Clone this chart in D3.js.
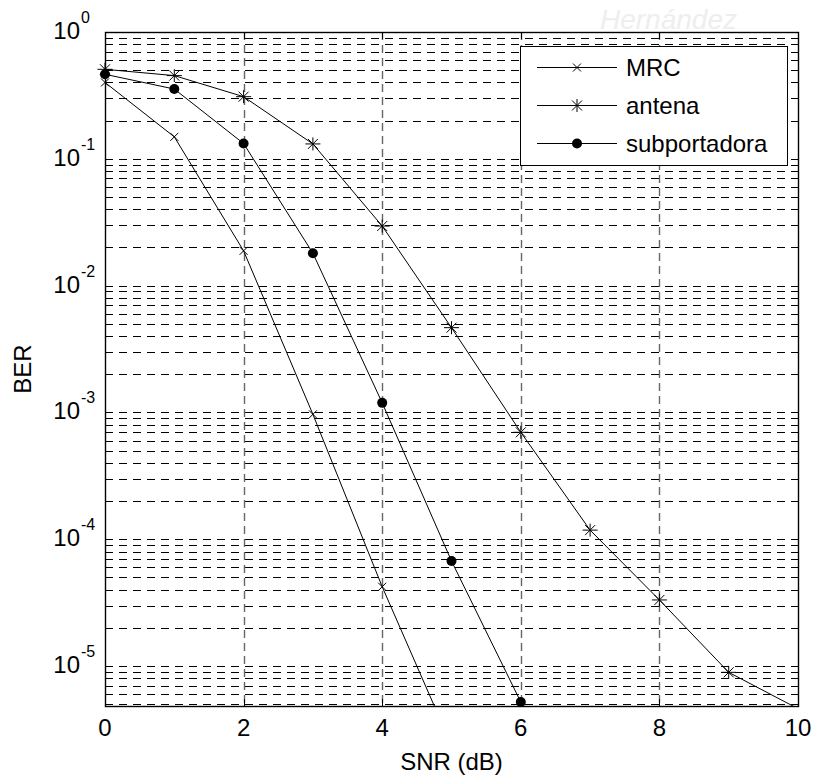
<html>
<head>
<meta charset="utf-8">
<style>
  body { margin: 0; background: #fff; }
  text { font-family: Arial, "Liberation Sans", sans-serif; fill: #000; }
</style>
</head>
<body>
<script src="https://cdnjs.cloudflare.com/ajax/libs/d3/7.8.5/d3.min.js"></script>
<svg id="chart" width="816" height="776"></svg>
<script>
// ---- data ----
var snr = [0, 1, 2, 3, 4, 5, 6, 7, 8, 9, 10];
var mrc = [0.40, 0.149, 0.0188, 9.66e-4, 4.22e-5, 2.37e-6];
var antena = [0.508, 0.453, 0.309, 0.131, 0.0295, 4.66e-3, 6.97e-4, 1.18e-4, 3.32e-5, 8.92e-6, 4.61e-6];
var subportadora = [0.464, 0.355, 0.132, 0.0180, 1.19e-3, 6.73e-5, 5.2e-6];
var seriesNames = ["MRC", "antena", "subportadora"];
var seriesMarkers = ["x", "star", "dot"];
var xTicks = [0, 2, 4, 6, 8, 10];
var yExponents = [0, -1, -2, -3, -4, -5];
var yMin = 4.84e-6;

var pL = 105, pR = 798, pT = 32, pB = 706;
var svg = d3.select("#chart");

// faint watermark behind the figure
svg.append("text")
    .attr("x", 600).attr("y", 29)
    .style("font-size", "28px").style("font-style", "italic")
    .style("fill", "#eeeeee")
    .text("Hernández");

var x = d3.scaleLinear().domain([0, 10]).range([pL, pR]);
var y = d3.scaleLog().domain([yMin, 1]).range([pB, pT]);

svg.append("rect")
    .attr("x", pL).attr("y", pT)
    .attr("width", pR - pL).attr("height", pB - pT)
    .attr("fill", "#fff");

// log grid values (majors + minors inside the domain)
var gridVals = [];
for (var e = -6; e <= 0; e++) {
    for (var m = 1; m <= 9; m++) {
        var v = m * Math.pow(10, e);
        if (v >= yMin && v <= 1) gridVals.push({ v: v, major: m === 1 });
    }
}

var grid = svg.append("g");
grid.selectAll(".hg")
    .data(gridVals.filter(function (d) { return d.v < 1; }))
    .join("line")
    .attr("x1", pL).attr("x2", pR)
    .attr("y1", function (d) { return Math.round(y(d.v)) + 0.5; })
    .attr("y2", function (d) { return Math.round(y(d.v)) + 0.5; })
    .attr("stroke", "#000").attr("stroke-width", 1)
    .attr("stroke-dasharray", "8,6");

grid.selectAll(".vg")
    .data(xTicks.filter(function (d) { return d > 0 && d < 10; }))
    .join("line")
    .attr("x1", function (d) { return Math.round(x(d)) + 0.5; })
    .attr("x2", function (d) { return Math.round(x(d)) + 0.5; })
    .attr("y1", pT).attr("y2", pB)
    .attr("stroke", "#666").attr("stroke-width", 1.4)
    .attr("stroke-dasharray", "8,5");

// ticks (inward, both sides)
var ticks = svg.append("g").attr("stroke", "#000").attr("stroke-width", 1);
gridVals.forEach(function (d) {
    var len = d.major ? 7 : 4;
    var yy = Math.round(y(d.v)) + 0.5;
    ticks.append("line").attr("x1", pL).attr("x2", pL + len).attr("y1", yy).attr("y2", yy);
    ticks.append("line").attr("x1", pR).attr("x2", pR - len).attr("y1", yy).attr("y2", yy);
});
xTicks.forEach(function (t) {
    var xx = Math.round(x(t)) + 0.5;
    ticks.append("line").attr("x1", xx).attr("x2", xx).attr("y1", pB).attr("y2", pB - 7);
    ticks.append("line").attr("x1", xx).attr("x2", xx).attr("y1", pT).attr("y2", pT + 7);
});

// series lines, clipped to the axes box
svg.append("clipPath").attr("id", "plotclip")
    .append("rect").attr("x", pL).attr("y", pT)
    .attr("width", pR - pL).attr("height", pB - pT);

var allSeries = [mrc, antena, subportadora];
var line = d3.line()
    .x(function (d, i) { return x(snr[i]); })
    .y(function (d) { return y(d); });

var plot = svg.append("g");
plot.selectAll(".series")
    .data(allSeries)
    .join("path")
    .attr("clip-path", "url(#plotclip)")
    .attr("d", line)
    .attr("fill", "none").attr("stroke", "#000").attr("stroke-width", 1);

function drawMarker(g, kind, cx, cy) {
    if (kind === "x") {
        g.append("path").attr("d", "M" + (cx - 4) + "," + (cy - 4) + "L" + (cx + 4) + "," + (cy + 4) +
            "M" + (cx - 4) + "," + (cy + 4) + "L" + (cx + 4) + "," + (cy - 4))
            .attr("stroke", "#000").attr("stroke-width", 1).attr("fill", "none");
    } else if (kind === "star") {
        g.append("path").attr("d", "M" + (cx - 7.5) + "," + cy + "L" + (cx + 7.5) + "," + cy +
            "M" + cx + "," + (cy - 6.5) + "L" + cx + "," + (cy + 6.5) +
            "M" + (cx - 5) + "," + (cy - 5) + "L" + (cx + 5) + "," + (cy + 5) +
            "M" + (cx - 5) + "," + (cy + 5) + "L" + (cx + 5) + "," + (cy - 5))
            .attr("stroke", "#000").attr("stroke-width", 1).attr("fill", "none");
    } else {
        g.append("circle").attr("cx", cx).attr("cy", cy).attr("r", 5).attr("fill", "#000");
    }
}

allSeries.forEach(function (s, k) {
    s.forEach(function (v, i) {
        if (v >= yMin) drawMarker(plot, seriesMarkers[k], x(snr[i]), y(v));
    });
});

// axes box
svg.append("rect")
    .attr("x", pL + 0.5).attr("y", pT + 0.5)
    .attr("width", pR - pL).attr("height", pB - pT)
    .attr("fill", "none").attr("stroke", "#000").attr("stroke-width", 1.4);

// tick labels
var labels = svg.append("g");
xTicks.forEach(function (t) {
    labels.append("text").attr("x", x(t)).attr("y", pB + 30)
        .attr("text-anchor", "middle").style("font-size", "24px").text(t);
});
yExponents.forEach(function (e) {
    var yy = y(Math.pow(10, e));
    labels.append("text").attr("x", 80).attr("y", yy + 7)
        .attr("text-anchor", "end").style("font-size", "24px").text("10");
    labels.append("text").attr("x", 81).attr("y", yy - 9)
        .style("font-size", "16px").text(e);
});

svg.append("text").attr("x", (pL + pR) / 2).attr("y", 770)
    .attr("text-anchor", "middle").style("font-size", "24px").text("SNR (dB)");
svg.append("text")
    .attr("transform", "translate(31," + ((pT + pB) / 2) + ") rotate(-90)")
    .attr("text-anchor", "middle").style("font-size", "24px").text("BER");

// legend
var lg = svg.append("g");
lg.append("rect").attr("x", 520.5).attr("y", 46.5).attr("width", 267).attr("height", 119)
    .attr("fill", "#fff").attr("stroke", "#000").attr("stroke-width", 1);
var rowY = [67.5, 105.5, 143.5];
seriesNames.forEach(function (name, k) {
    lg.append("line").attr("x1", 537).attr("x2", 617).attr("y1", rowY[k]).attr("y2", rowY[k])
        .attr("stroke", "#000").attr("stroke-width", 1);
    drawMarker(lg, seriesMarkers[k], 577, rowY[k]);
    lg.append("text").attr("x", 626).attr("y", rowY[k] + 8.5)
        .style("font-size", "24px").text(name);
});
</script>
</body>
</html>
